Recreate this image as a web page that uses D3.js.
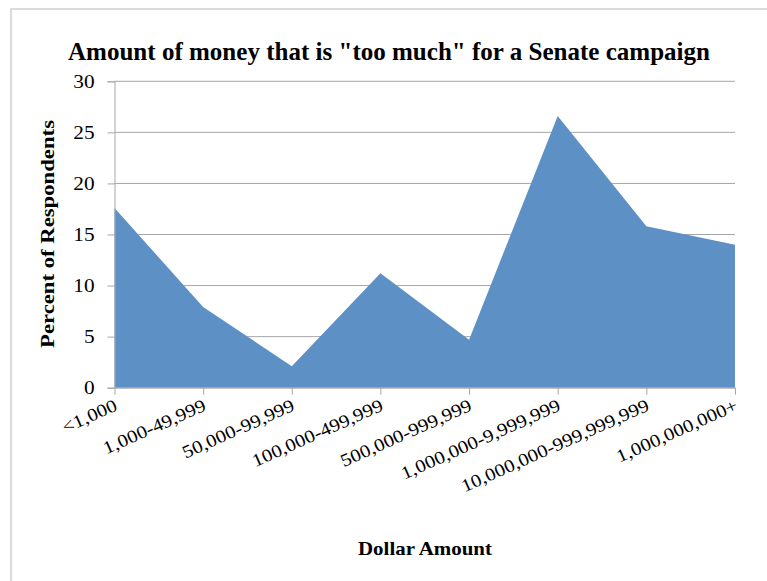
<!DOCTYPE html>
<html>
<head>
<meta charset="utf-8">
<script src="https://cdn.jsdelivr.net/npm/d3@7"></script>
<style>
  html, body { margin: 0; padding: 0; background: #fff; }
  svg { display: block; }
  text { font-family: "Liberation Serif", "DejaVu Serif", serif; fill: #000; }
</style>
</head>
<body>
<svg id="chart" width="767" height="581"></svg>
<script>
// Survey answers: what amount counts as "too much" for a Senate campaign
const categories = [
  "<1,000",
  "1,000-49,999",
  "50,000-99,999",
  "100,000-499,999",
  "500,000-999,999",
  "1,000,000-9,999,999",
  "10,000,000-999,999,999",
  "1,000,000,000+"
];
const percents = [17.6, 7.9, 2.1, 11.2, 4.7, 26.6, 15.8, 14.0];
const yTicks = [0, 5, 10, 15, 20, 25, 30];

const titleText = 'Amount of money that is "too much" for a Senate campaign';
const yTitleText = "Percent of Respondents";
const xTitleText = "Dollar Amount";

const svg = d3.select("#chart");
const gridColor = "#a6a6a6";
const fillColor = "#5d91c6";

const plot = { left: 114.5, right: 735, top: 81.3, bottom: 387.7 };

const x = d3.scalePoint().domain(categories).range([plot.left, plot.right]);
const y = d3.scaleLinear().domain([0, 30]).range([plot.bottom, plot.top]);

// widen glyphs a little so the serif face has a rounder, wider set
function widen(sel, factor) {
  sel.each(function () {
    const len = this.getComputedTextLength();
    d3.select(this)
      .attr("textLength", len * factor)
      .attr("lengthAdjust", "spacingAndGlyphs");
  });
}

// outer frame
svg.append("rect")
  .attr("x", 11).attr("y", 9)
  .attr("width", 800).attr("height", 620)
  .attr("fill", "none")
  .attr("stroke", "#cfcfcf")
  .attr("stroke-width", 1.5);

// horizontal gridlines
svg.append("g")
  .selectAll("line")
  .data(yTicks.filter(d => d > 0))
  .join("line")
  .attr("x1", plot.left).attr("x2", plot.right)
  .attr("y1", d => y(d)).attr("y2", d => y(d))
  .attr("stroke", gridColor)
  .attr("stroke-width", 1);

// filled area
const area = d3.area()
  .x((d, i) => x(categories[i]))
  .y0(y(0))
  .y1(d => y(d));

svg.append("path")
  .datum(percents)
  .attr("d", area)
  .attr("fill", fillColor);

// y axis
const yAxis = d3.axisLeft(y).tickValues(yTicks).tickSize(7).tickPadding(13);
const gy = svg.append("g")
  .attr("transform", `translate(${plot.left},0)`)
  .call(yAxis);
gy.select(".domain").attr("stroke", gridColor);
gy.selectAll(".tick line").attr("stroke", gridColor);
gy.selectAll(".tick text")
  .attr("font-family", "Liberation Serif")
  .attr("font-size", 19)
  .attr("fill", "#000")
  .call(widen, 1.12);

// x axis
const xAxis = d3.axisBottom(x).tickSize(7).tickSizeOuter(0).tickFormat(() => "");
const gx = svg.append("g")
  .attr("transform", `translate(0,${plot.bottom})`)
  .call(xAxis);
gx.select(".domain").attr("stroke", gridColor);
gx.selectAll(".tick line").attr("stroke", gridColor);

// rotated category labels, ending at each tick
svg.append("g")
  .selectAll("text")
  .data(categories)
  .join("text")
  .attr("transform", d => `translate(${x(d) + 4},${plot.bottom + 22}) rotate(-24)`)
  .attr("text-anchor", "end")
  .attr("font-size", 18)
  .text(d => d)
  .call(widen, 1.15);

// titles
svg.append("text")
  .attr("x", 389).attr("y", 60)
  .attr("text-anchor", "middle")
  .attr("font-weight", "bold")
  .attr("font-size", 25)
  .attr("textLength", 642)
  .attr("lengthAdjust", "spacingAndGlyphs")
  .text(titleText);

svg.append("text")
  .attr("transform", "translate(54,234) rotate(-90)")
  .attr("text-anchor", "middle")
  .attr("font-weight", "bold")
  .attr("font-size", 19)
  .attr("textLength", 228)
  .attr("lengthAdjust", "spacingAndGlyphs")
  .text(yTitleText);

svg.append("text")
  .attr("x", 425).attr("y", 555)
  .attr("text-anchor", "middle")
  .attr("font-weight", "bold")
  .attr("font-size", 19)
  .attr("textLength", 134)
  .attr("lengthAdjust", "spacingAndGlyphs")
  .text(xTitleText);
</script>
</body>
</html>
